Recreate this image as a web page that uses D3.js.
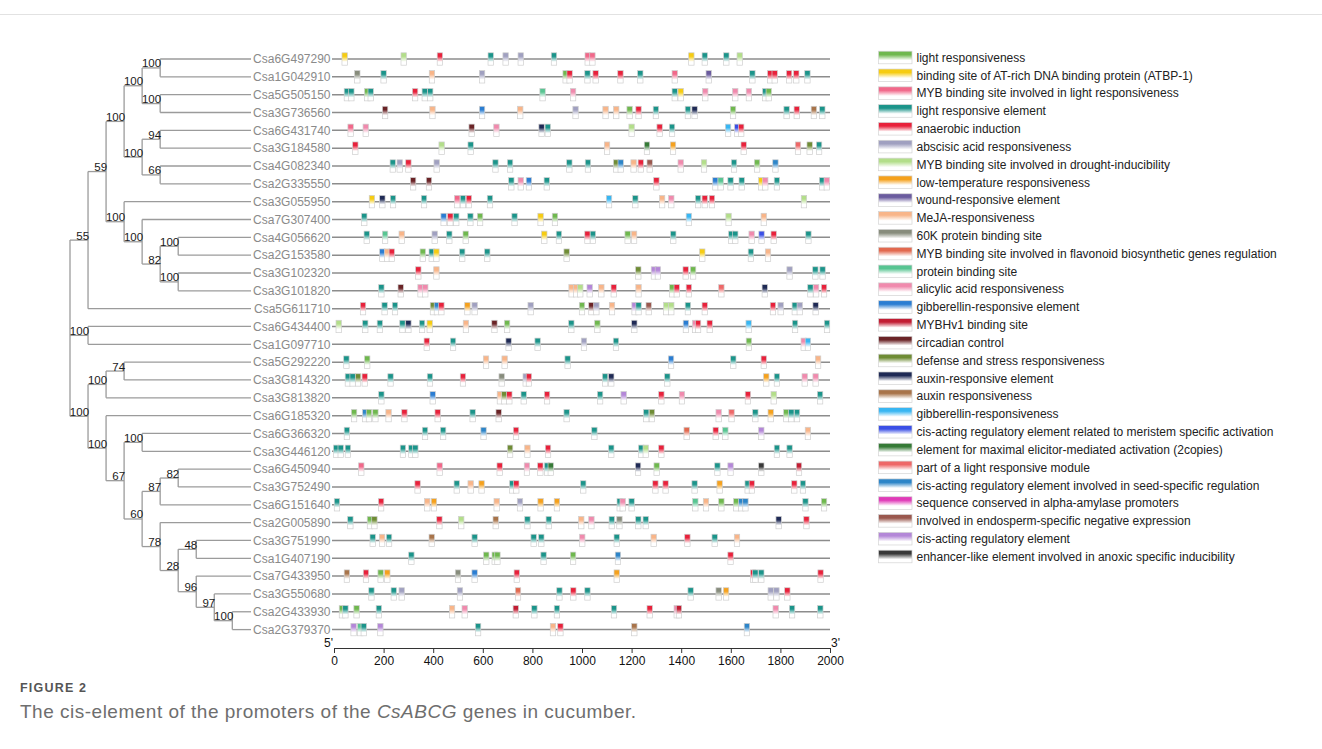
<!DOCTYPE html>
<html>
<head>
<meta charset="utf-8">
<script src="https://cdn.jsdelivr.net/npm/d3@7"></script>
<style>
  html, body { margin: 0; padding: 0; background: #fff; }
  svg { display: block; }
  text { font-family: "Liberation Sans", Arial, sans-serif; }
</style>
</head>
<body>
<svg id="chart" width="1322" height="749"></svg>
<script>
// Phylogenetic tree (Newick, bootstrap support on internal nodes)
const treeNewick = "((((((Csa6G497290,Csa1G042910)100,(Csa5G505150,Csa3G736560)100)100,((Csa6G431740,Csa3G184580)94,(Csa4G082340,Csa2G335550)66)100)100,(Csa3G055950,(Csa7G307400,((Csa4G056620,Csa2G153580)100,(Csa3G102320,Csa3G101820)100)82)100)100)59,Csa5G611710)55,(Csa6G434400,Csa1G097710)100,(((Csa5G292220,Csa3G814320)74,Csa3G813820)100,(Csa6G185320,((Csa6G366320,Csa3G446120)100,(((Csa6G450940,Csa3G752490)82,Csa6G151640)87,(Csa2G005890,((Csa3G751990,Csa1G407190)48,(Csa7G433950,(Csa3G550680,(Csa2G433930,Csa2G379370)100)97)96)28)78)60)67)100)100);";

// Gene order (top to bottom)
const genes = ["Csa6G497290","Csa1G042910","Csa5G505150","Csa3G736560","Csa6G431740","Csa3G184580","Csa4G082340","Csa2G335550","Csa3G055950","Csa7G307400","Csa4G056620","Csa2G153580","Csa3G102320","Csa3G101820","Csa5G611710","Csa6G434400","Csa1G097710","Csa5G292220","Csa3G814320","Csa3G813820","Csa6G185320","Csa6G366320","Csa3G446120","Csa6G450940","Csa3G752490","Csa6G151640","Csa2G005890","Csa3G751990","Csa1G407190","Csa7G433950","Csa3G550680","Csa2G433930","Csa2G379370"];

// Cis-element categories (legend order)
const elementCodes = ["LR","AT","MYBL","LRE","AN","ABA","MYBD","LT","WR","MEJA","K60","MYBF","PB","SA","GRE","HV","CC","DS","ARE","AUX","GR","MER","ELI","PLM","SEED","AMY","ENDO","CARE","ENH"];
const elementLabels = ["light responsiveness","binding site of AT-rich DNA binding protein (ATBP-1)","MYB binding site involved in light responsiveness","light responsive element","anaerobic induction","abscisic acid responsiveness","MYB binding site involved in drought-inducibility","low-temperature responsiveness","wound-responsive element","MeJA-responsiveness","60K protein binding site","MYB binding site involved in flavonoid biosynthetic genes regulation","protein binding site","alicylic acid responsiveness","gibberellin-responsive element","MYBHv1 binding site","circadian control","defense and stress responsiveness","auxin-responsive element","auxin responsiveness","gibberellin-responsiveness","cis-acting regulatory element related to meristem specific activation","element for maximal elicitor-mediated activation (2copies)","part of a light responsive module","cis-acting regulatory element involved in seed-specific regulation","sequence conserved in alpha-amylase promoters","involved in endosperm-specific negative expression","cis-acting regulatory element","enhancer-like element involved in anoxic specific inducibility"];
const elementColors = ["#6fb84e","#f6cc12","#f1688a","#1b948a","#e8213b","#a0a0c0","#b3de8a","#f5a11d","#6a5b9e","#f8b589","#878c7c","#e2694f","#58c592","#f08aad","#2a7dd2","#c21d33","#6a2326","#6f8c35","#1f2a55","#a8744a","#38b6f2","#3a4fe6","#357a36","#ee6868","#2d85c8","#e03bb8","#9a584e","#b487d8","#383838"];

// Cis-element sites per promoter: [category, position (bp)], in gene order
const sites = [
  [["AT",43],["MYBD",281],["AN",427],["LRE",632],["ABA",692],["ABA",753],["LRE",887],["MYBL",1023],["MYBL",1042],["AT",1441],["LRE",1495],["LRE",1582],["MYBD",1636]],
  [["K60",94],["LRE",200],["MEJA",395],["ABA",597],["LR",934],["AN",950],["LRE",1022],["AN",1055],["AN",1155],["LRE",1235],["MYBL",1374],["WR",1511],["LRE",1687],["AN",1759],["AN",1777],["AN",1835],["AN",1864],["LRE",1909]],
  [["LRE",52],["LRE",70],["LR",134],["LRE",148],["AN",327],["LRE",366],["LRE",388],["PB",841],["SA",964],["LRE",1374],["AT",1398],["SA",1497],["SA",1618],["SA",1673],["LRE",1739],["LR",1753]],
  [["CC",206],["MEJA",397],["GRE",597],["MEJA",751],["ABA",974],["MEJA",1095],["MEJA",1138],["LR",1192],["AN",1228],["LRE",1298],["LRE",1427],["ARE",1454],["LR",1609],["LRE",1825],["AN",1866],["AUX",1935],["LRE",1969]],
  [["MYBL",67],["SA",128],["CC",555],["SA",655],["ARE",837],["LRE",862],["MYBD",1200],["AN",1313],["LRE",1363],["GR",1589],["MER",1626],["AN",1642]],
  [["AN",86],["MYBD",434],["LRE",551],["MEJA",1101],["ELI",1262],["LT",1367],["AN",1652],["PLM",1871],["DS",1918],["LRE",1956]],
  [["LRE",237],["ABA",265],["AN",300],["ABA",414],["LRE",651],["LRE",710],["LRE",949],["LRE",1024],["DS",1138],["SEED",1156],["MEJA",1208],["AN",1237],["ENDO",1273],["SA",1398],["MYBD",1492],["LRE",1613],["LR",1706],["SEED",1780]],
  [["CC",319],["CC",383],["LRE",715],["SA",753],["GRE",786],["LRE",858],["AN",1300],["GRE",1538],["PB",1559],["LRE",1599],["LRE",1644],["AT",1723],["SA",1739],["LRE",1786],["LRE",1968],["SA",1987]],
  [["AT",153],["ARE",195],["LRE",238],["LRE",363],["MYBL",497],["LRE",520],["AN",544],["LRE",629],["GR",1109],["LRE",1215],["MEJA",1323],["SA",1360],["LRE",1468],["AN",1495],["AN",1524],["MYBD",1895]],
  [["LRE",122],["GRE",442],["AN",469],["LRE",493],["LRE",550],["LR",589],["LRE",728],["AT",833],["LR",891],["GR",1431],["MYBD",1591],["MEJA",1733]],
  [["LRE",132],["PB",206],["MEJA",273],["ABA",406],["LRE",465],["LR",531],["AT",848],["LRE",907],["AN",1022],["LRE",1044],["LR",1184],["MEJA",1210],["LRE",1368],["LRE",1602],["LRE",1618],["SA",1684],["MER",1724],["AN",1773],["LRE",1913]],
  [["GRE",195],["MEJA",214],["AN",233],["LR",358],["LRE",394],["AT",413],["LRE",517],["LRE",618],["DS",938],["AT",1485],["LRE",1681],["MEJA",1750]],
  [["AN",340],["MEJA",413],["DS",1227],["CARE",1290],["CARE",1306],["AN",1418],["LR",1448],["ABA",1837],["LRE",1941],["LRE",1970]],
  [["LRE",191],["CC",269],["SA",349],["SA",368],["MEJA",958],["MEJA",977],["MYBD",993],["CARE",1031],["MEJA",1078],["AN",1128],["MEJA",1228],["LR",1364],["AN",1382],["AN",1431],["PLM",1562],["ARE",1737],["LRE",1921],["SA",1944],["AN",1976]],
  [["AN",117],["LRE",204],["LRE",246],["DS",399],["SEED",415],["AN",433],["LT",538],["ABA",567],["ABA",793],["LR",1000],["CC",1038],["ABA",1058],["MEJA",1121],["CARE",1212],["LRE",1228],["ENDO",1269],["MYBD",1340],["MYBD",1360],["LRE",1427],["AN",1495],["AN",1770],["ABA",1801],["LRE",1858],["ABA",1878],["ARE",1942]],
  [["MYBD",19],["LRE",126],["LRE",185],["LRE",276],["ARE",300],["LRE",355],["AT",386],["MEJA",532],["CC",647],["LR",698],["LRE",957],["LR",1062],["ARE",1211],["GRE",1419],["SA",1456],["AN",1468],["AN",1515],["GR",1672],["LRE",1859],["LRE",1988]],
  [["AN",374],["LRE",480],["ARE",704],["LRE",821],["ABA",1008],["LRE",1137],["LR",1673],["SA",1894],["GR",1911]],
  [["LRE",50],["LR",134],["MEJA",613],["MEJA",688],["LRE",942],["GRE",1359],["LRE",1610],["AN",1733],["MEJA",1952]],
  [["LRE",56],["LRE",75],["DS",97],["AN",124],["LRE",228],["LRE",387],["AN",520],["K60",676],["ABA",773],["AN",786],["LRE",1093],["ARE",1118],["LRE",1344],["LT",1743],["LRE",1786],["SA",1898],["SA",1942]],
  [["LRE",191],["GRE",398],["MEJA",669],["DS",687],["AN",707],["LRE",765],["AN",859],["LRE",1073],["CARE",1168],["AN",1320],["SA",1403],["AN",1669],["MYBD",1773],["LRE",1960]],
  [["LR",81],["SEED",126],["LR",141],["LR",167],["MEJA",220],["AN",284],["AN",418],["LRE",559],["CC",664],["LRE",938],["LRE",1259],["DS",1282],["SA",1551],["PLM",1603],["LRE",1699],["LT",1761],["LR",1824],["LRE",1844],["LRE",1867]],
  [["LRE",52],["LRE",367],["LRE",440],["SEED",603],["AN",734],["LRE",1050],["MYBF",1422],["AN",1539],["PB",1578],["CARE",1723],["MEJA",1911]],
  [["LRE",9],["LRE",27],["LRE",56],["LRE",278],["LRE",312],["LRE",328],["DS",710],["MEJA",780],["AN",863],["LRE",1118],["LRE",1239],["MYBD",1257],["AN",1320],["LRE",1786],["LRE",1837]],
  [["MYBL",110],["MYBL",426],["AN",668],["SA",778],["AN",832],["LRE",859],["ELI",874],["ARE",1226],["LR",1301],["LRE",1546],["CARE",1599],["ENH",1723],["HV",1875]],
  [["AN",337],["LRE",495],["MEJA",551],["LT",595],["LRE",719],["AN",735],["LRE",1005],["AN",1296],["AN",1337],["LRE",1454],["LT",1555],["LRE",1668],["AN",1685],["AN",1856],["LRE",1891]],
  [["LRE",12],["AN",190],["MEJA",376],["LT",403],["MEJA",656],["ABA",750],["LT",833],["LT",899],["LRE",1152],["SA",1164],["LRE",1200],["PB",1457],["MEJA",1500],["LR",1562],["LR",1622],["SEED",1642],["SEED",1659],["LRE",1901],["LR",1976]],
  [["LRE",66],["LR",145],["DS",163],["AN",425],["MYBD",513],["AUX",652],["LRE",780],["LRE",866],["MEJA",997],["SA",1038],["LRE",1120],["K60",1151],["LRE",1227],["LRE",1257],["ARE",1793],["AN",1905]],
  [["LRE",156],["MEJA",194],["LRE",222],["AUX",394],["LRE",567],["LRE",805],["LRE",836],["SA",1001],["LRE",1140],["MEJA",1289],["AN",1425],["LRE",1535],["MEJA",1625]],
  [["LRE",312],["LR",614],["LR",648],["LR",659],["LRE",845],["LR",964],["SEED",1145],["AN",1599]],
  [["AUX",52],["AN",129],["LR",188],["LT",215],["K60",500],["GRE",567],["AN",737],["LT",1140],["AN",1690],["LRE",1699],["LRE",1723],["AN",1962]],
  [["LRE",151],["LRE",241],["ABA",273],["ABA",508],["MYBF",742],["LRE",909],["AN",965],["LRE",1022],["LRE",1438],["K60",1551],["LT",1581],["ABA",1761],["ABA",1784],["AN",1828]],
  [["LR",32],["LRE",46],["LR",91],["LRE",181],["MEJA",476],["SA",527],["HV",733],["LRE",808],["LRE",899],["LRE",1129],["AN",1273],["SA",1382],["HV",1391],["SA",1781],["LRE",1847],["LRE",1961]],
  [["CARE",79],["PB",106],["LRE",120],["CARE",187],["LRE",581],["MEJA",883],["AN",913],["AUX",1211],["SEED",1665]]
];

const axisTicks = [0,200,400,600,800,1000,1200,1400,1600,1800,2000];

// ---------- layout ----------
const svg = d3.select("#chart");
const defs = svg.append("defs");

const x = d3.scaleLinear().domain([0, 2000]).range([334, 830]);
const rowY = d3.scaleLinear().domain([0, genes.length - 1]).range([59, 629.6]);
const depthX = d3.scaleLinear().domain([0, 9]).range([70, 232.3]);
const leafEndX = 251;
const colorOf = d3.scaleOrdinal().domain(elementCodes).range(elementColors);

// vertical colour-to-white gradients for element boxes
elementCodes.forEach(code => {
  const g = defs.append("linearGradient")
    .attr("id", "grad-" + code)
    .attr("x1", 0).attr("y1", 0).attr("x2", 0).attr("y2", 1);
  g.append("stop").attr("offset", "0%").attr("stop-color", colorOf(code));
  g.append("stop").attr("offset", "28%").attr("stop-color", colorOf(code));
  g.append("stop").attr("offset", "72%").attr("stop-color", "#ffffff");
  g.append("stop").attr("offset", "100%").attr("stop-color", "#ffffff");
});

// thin rule across the top of the figure panel
svg.append("line")
  .attr("x1", 0).attr("x2", 1322).attr("y1", 14.5).attr("y2", 14.5)
  .attr("stroke", "#e2e2e2").attr("stroke-width", 1);

// ---------- tree ----------
function parseNewick(s) {
  let i = 0;
  function node() {
    const n = {};
    if (s[i] === "(") {
      i++;
      n.children = [];
      while (true) {
        n.children.push(node());
        if (s[i] === ",") { i++; continue; }
        break;
      }
      i++; // closing ')'
    }
    let lab = "";
    while (i < s.length && !",();".includes(s[i])) lab += s[i++];
    if (n.children) n.support = lab; else n.name = lab;
    return n;
  }
  return node();
}

const root = d3.hierarchy(parseNewick(treeNewick));
root.eachAfter(n => {
  if (!n.children) {
    n.px = leafEndX;
    n.py = rowY(genes.indexOf(n.data.name));
  } else {
    n.px = depthX(n.depth);
    n.py = (n.children[0].py + n.children[n.children.length - 1].py) / 2;
  }
});

const treeG = svg.append("g")
  .attr("fill", "none")
  .attr("stroke", "#9b9b9b")
  .attr("stroke-width", 1.3);

root.descendants().filter(n => n.children).forEach(n => {
  const c0 = n.children[0], c1 = n.children[n.children.length - 1];
  treeG.append("line")
    .attr("x1", n.px).attr("x2", n.px)
    .attr("y1", c0.py).attr("y2", c1.py);
  n.children.forEach(c => {
    treeG.append("line")
      .attr("x1", n.px).attr("x2", c.px)
      .attr("y1", c.py).attr("y2", c.py);
  });
});

// bootstrap values
svg.append("g").selectAll("text")
  .data(root.descendants().filter(n => n.children && n.data.support))
  .join("text")
  .attr("x", n => n.px + 1)
  .attr("y", n => n.py - 0.5)
  .attr("text-anchor", "end")
  .attr("font-size", 11.5)
  .attr("fill", "#1a1a1a")
  .text(n => n.data.support);

// gene labels
svg.append("g").selectAll("text")
  .data(genes)
  .join("text")
  .attr("x", 330.5)
  .attr("y", (d, i) => rowY(i))
  .attr("dy", "0.36em")
  .attr("text-anchor", "end")
  .attr("font-size", 12)
  .attr("fill", "#8a8a8a")
  .text(d => d);

// ---------- promoter lines and elements ----------
const rows = svg.append("g");
genes.forEach((gName, i) => {
  const y = rowY(i);
  rows.append("line")
    .attr("x1", 332).attr("x2", x(2000))
    .attr("y1", y).attr("y2", y)
    .attr("stroke", "#8c8c8c").attr("stroke-width", 1.5);
});

const boxW = 5.4, boxH = 12.4;
genes.forEach((gName, i) => {
  const y = rowY(i);
  rows.append("g").selectAll("rect")
    .data(sites[i])
    .join("rect")
    .attr("x", d => x(d[1]) - boxW / 2)
    .attr("y", y - boxH / 2)
    .attr("width", boxW)
    .attr("height", boxH)
    .attr("fill", d => "url(#grad-" + d[0] + ")")
    .attr("stroke", "#cfcfcf")
    .attr("stroke-width", 0.7);
});

// ---------- position axis ----------
const axisG = svg.append("g")
  .attr("transform", "translate(0,648)")
  .call(d3.axisBottom(x).tickValues(axisTicks).tickFormat(d3.format("d")).tickSize(5).tickSizeOuter(5));
axisG.selectAll("text")
  .attr("font-size", 12)
  .attr("font-family", "Liberation Sans, Arial, sans-serif")
  .attr("fill", "#111");
axisG.selectAll("line, path").attr("stroke", "#333");

svg.append("text").attr("x", 333).attr("y", 647).attr("text-anchor", "end")
  .attr("font-size", 12).attr("fill", "#111").text("5'");
svg.append("text").attr("x", 831).attr("y", 647).attr("text-anchor", "start")
  .attr("font-size", 12).attr("fill", "#111").text("3'");

// ---------- legend ----------
const legendY = d3.scaleLinear().domain([0, elementCodes.length - 1]).range([57.5, 556.5]);
const legend = svg.append("g");
elementCodes.forEach((code, i) => {
  const y = legendY(i);
  legend.append("rect")
    .attr("x", 878.5).attr("y", y - 6.3)
    .attr("width", 33.5).attr("height", 12.6)
    .attr("fill", "url(#grad-" + code + ")")
    .attr("stroke", "#d4d4d4").attr("stroke-width", 0.7);
  legend.append("text")
    .attr("x", 916.5).attr("y", y).attr("dy", "0.36em")
    .attr("font-size", 12).attr("fill", "#222")
    .text(elementLabels[i]);
});

// ---------- caption ----------
svg.append("text")
  .attr("x", 20).attr("y", 692)
  .attr("font-family", "'Open Sans', sans-serif")
  .attr("font-size", 12.5).attr("font-weight", 600)
  .attr("letter-spacing", 1.2)
  .attr("fill", "#555")
  .text("FIGURE 2");

const cap = svg.append("text")
  .attr("x", 20).attr("y", 718)
  .attr("font-family", "'Open Sans', sans-serif")
  .attr("font-size", 19)
  .attr("letter-spacing", 0.5)
  .attr("fill", "#6e6e6e");
cap.append("tspan").text("The cis-element of the promoters of the ");
cap.append("tspan").attr("font-style", "italic").text("CsABCG");
cap.append("tspan").text(" genes in cucumber.");
</script>
</body>
</html>
